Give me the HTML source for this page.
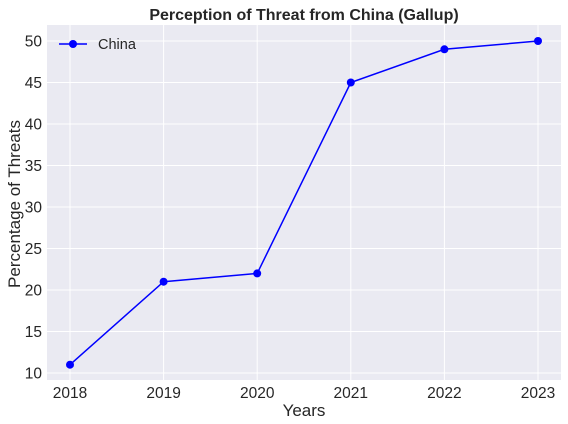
<!DOCTYPE html>
<html><head><meta charset="utf-8"><style>
body{margin:0;background:#fff;}
svg{display:block;font-family:"Liberation Sans",Arial,sans-serif;}
</style></head><body>
<svg id="chart" width="568" height="424">
<rect x="47" y="25" width="514" height="355" fill="#eaeaf2"/>
<g id="grid"></g><g id="ticks"></g><g id="series"></g>
<text x="304" y="20" text-anchor="middle" font-size="16" font-weight="bold" fill="#262626">Perception of Threat from China (Gallup)</text>
<text x="304" y="416" text-anchor="middle" font-size="17" fill="#262626">Years</text>
<text x="20" y="204" text-anchor="middle" font-size="17" fill="#262626" transform="rotate(-90 20 204)">Percentage of Threats</text>
<g>
<line x1="59" y1="44" x2="87" y2="44" stroke="#0000ff" stroke-width="1.5"/>
<circle cx="73" cy="44" r="4" fill="#0000ff"/>
<text x="98" y="49" font-size="14.5" fill="#262626">China</text>
</g>
</svg>
<script>
const years=[2018,2019,2020,2021,2022,2023];
const values=[11,21,22,45,49,50];
const yTicks=[10,15,20,25,30,35,40,45,50];
const ns="http://www.w3.org/2000/svg";
function xs(v){return 70+(v-2018)*93.6;}
function ys(v){return 373-(v-10)*8.3;}
function mk(tag,attrs,parent){const e=document.createElementNS(ns,tag);for(const k in attrs)e.setAttribute(k,attrs[k]);document.getElementById(parent).appendChild(e);return e;}
yTicks.forEach(t=>{
 const l=mk('line',{x1:47,x2:561,y1:ys(t),y2:ys(t),stroke:'#fff','stroke-width':1},'grid');
 
 
 const tx=mk('text',{x:42,y:ys(t)+5.5,'text-anchor':'end','font-size':15.5,fill:'#262626'},'ticks');
 tx.textContent=t;
 
 
});
years.forEach(y=>{
 const l=mk('line',{x1:xs(y),x2:xs(y),y1:25,y2:380,stroke:'#fff','stroke-width':1},'grid');
 
 
 const tx=mk('text',{x:xs(y),y:398,'text-anchor':'middle','font-size':15.5,fill:'#262626'},'ticks');
 tx.textContent=y;
 
 
});
const pts=years.map((y,i)=>xs(y)+','+ys(values[i])).join(' ');
const pl=mk('polyline',{points:pts,fill:'none',stroke:'#0000ff','stroke-width':1.5},'series');


years.forEach((y,i)=>{
 const c=mk('circle',{cx:xs(y),cy:ys(values[i]),r:4,fill:'#0000ff'},'series');
 
 
});
</script>
</body></html>
